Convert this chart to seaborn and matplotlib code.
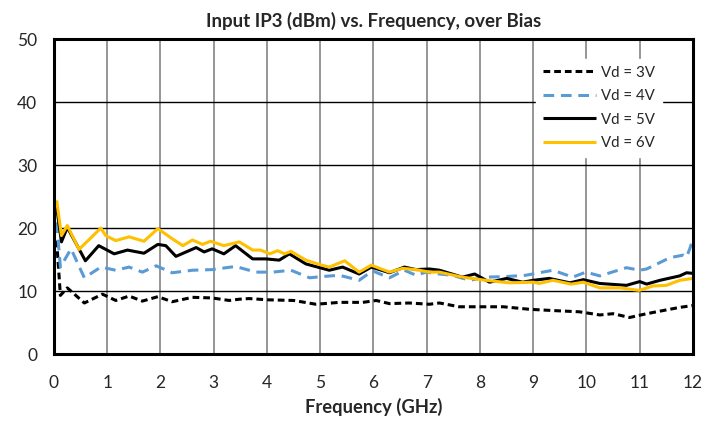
import matplotlib
matplotlib.use("Agg")
import matplotlib.pyplot as plt
import seaborn as sns
import pandas as pd

# ---- data ----
f_3v = [0.05, 0.12, 0.25, 0.57, 0.91, 1.16, 1.41, 1.66, 1.95, 2.22, 2.60, 2.97, 3.29, 3.48,
        3.66, 4.03, 4.50, 4.92, 5.36, 5.80, 6.05, 6.30, 6.67, 7.05, 7.24, 7.61, 8.44, 8.93,
        9.37, 9.87, 10.25, 10.50, 10.81, 11.13, 11.50, 11.75, 12.0]
v_3v = [18.0, 9.3, 10.5, 8.1, 9.5, 8.5, 9.2, 8.4, 9.1, 8.3, 9.0, 8.9, 8.5, 8.7,
        8.8, 8.6, 8.5, 7.9, 8.2, 8.2, 8.5, 8.0, 8.1, 7.9, 8.1, 7.5, 7.5, 7.1,
        6.9, 6.7, 6.2, 6.4, 5.8, 6.4, 7.0, 7.4, 7.7]

f_4v = [0.05, 0.12, 0.32, 0.57, 0.88, 1.16, 1.41, 1.66, 1.92, 2.22, 2.60, 2.97, 3.41, 3.79,
        4.11, 4.45, 4.80, 5.04, 5.36, 5.73, 5.98, 6.30, 6.58, 6.80, 6.99, 7.24, 7.48, 7.81,
        8.11, 8.50, 8.86, 9.37, 9.74, 9.99, 10.25, 10.75, 11.00, 11.13, 11.57, 11.82, 11.88,
        11.94, 12.0]
v_4v = [20.9, 13.8, 16.7, 12.1, 13.8, 13.3, 13.8, 13.0, 14.0, 12.9, 13.3, 13.4, 13.9, 13.0,
        13.0, 13.3, 12.1, 12.3, 12.5, 11.7, 13.2, 12.1, 13.3, 12.5, 13.0, 12.7, 12.5, 11.7,
        12.2, 12.3, 12.5, 13.3, 12.2, 13.0, 12.4, 13.7, 13.3, 13.5, 15.3, 15.7, 15.4,
        16.7, 18.3]

f_5v = [0.05, 0.14, 0.25, 0.59, 0.84, 1.13, 1.38, 1.69, 1.95, 2.10, 2.29, 2.67, 2.82, 2.97,
        3.19, 3.41, 3.73, 3.98, 4.23, 4.42, 4.73, 5.17, 5.42, 5.73, 5.96, 6.30, 6.58, 6.80,
        7.05, 7.24, 7.67, 7.90, 8.18, 8.50, 8.80, 9.00, 9.30, 9.69, 9.94, 10.25, 10.75,
        11.00, 11.13, 11.38, 11.75, 11.88, 12.0]
v_5v = [23.3, 17.8, 20.1, 14.8, 17.2, 15.9, 16.5, 16.0, 17.4, 17.2, 15.5, 16.9, 16.2, 16.7,
        15.9, 17.2, 15.1, 15.1, 14.9, 15.9, 14.3, 13.3, 13.8, 12.7, 13.8, 12.9, 13.8, 13.4,
        13.5, 13.3, 12.2, 12.7, 11.4, 12.0, 11.4, 11.7, 12.0, 11.3, 11.8, 11.2, 10.9,
        11.5, 11.1, 11.7, 12.4, 12.9, 12.8]

f_6v = [0.05, 0.14, 0.25, 0.47, 0.88, 0.97, 1.16, 1.41, 1.69, 1.95, 2.22, 2.42, 2.60, 2.79,
        2.94, 3.19, 3.48, 3.73, 3.88, 4.05, 4.20, 4.33, 4.45, 4.73, 4.99, 5.17, 5.46, 5.73,
        5.96, 6.30, 6.55, 6.80, 7.05, 7.24, 7.67, 8.11, 8.55, 9.00, 9.11, 9.37, 9.71, 9.94,
        10.25, 10.63, 10.99, 11.25, 11.50, 11.75, 12.0]
v_6v = [24.4, 18.8, 20.4, 16.6, 20.0, 18.8, 18.0, 18.6, 17.9, 19.9, 18.3, 17.2, 18.1, 17.4,
        17.9, 17.2, 17.8, 16.5, 16.5, 15.9, 16.4, 15.9, 16.3, 14.9, 14.2, 13.8, 14.8, 13.0,
        14.1, 13.0, 13.6, 13.4, 13.0, 13.0, 12.2, 11.7, 11.3, 11.4, 11.2, 11.7, 11.1, 11.4,
        10.5, 10.5, 10.1, 10.8, 10.9, 11.7, 12.0]

labels = ["Vd = 3V", "Vd = 4V", "Vd = 5V", "Vd = 6V"]
x_ticks = list(range(0, 13))
y_ticks = [0, 10, 20, 30, 40, 50]
title = "Input IP3 (dBm) vs. Frequency, over Bias"
xlabel = "Frequency (GHz)"

# ---- plot ----
sns.set_theme(style="white")
plt.rcParams["font.family"] = ["Lato", "DejaVu Sans"]

fig = plt.figure(figsize=(7.19, 4.21), dpi=100)
ax = fig.add_axes([0.0751, 0.1591, 0.8887, 0.7482])

styles = [
    dict(color="black", dashes=(2.2, 1.3)),
    dict(color="#5B9BD5", dashes=(3.5, 2.2)),
    dict(color="black", dashes=None),
    dict(color="#FFC000", dashes=None),
]
series = [(f_3v, v_3v), (f_4v, v_4v), (f_5v, v_5v), (f_6v, v_6v)]
for (fx, vy), lab, st in zip(series, labels, styles):
    df = pd.DataFrame({"f": fx, "v": vy})
    sns.lineplot(data=df, x="f", y="v", ax=ax, color=st["color"], lw=2.2,
                 label=lab, estimator=None, sort=False)
    ln = ax.lines[-1]
    if st["dashes"]:
        ln.set_dashes(st["dashes"])
    ln.set_solid_capstyle("butt")
    ln.set_dash_capstyle("butt")

ax.set_xlim(0, 12)
ax.set_ylim(0, 50)
ax.set_xticks(x_ticks)
ax.set_yticks(y_ticks)
ax.set_xticklabels([str(t) for t in x_ticks], fontsize=12.5)
ax.set_yticklabels([str(t) for t in y_ticks], fontsize=12.5)
ax.tick_params(axis="x", length=0, pad=15)
ax.tick_params(axis="y", length=0, pad=12)

for t in x_ticks[1:-1]:
    ax.axvline(t, color="#969696", lw=1.4, zorder=0)
for t in y_ticks[1:-1]:
    ax.axhline(t, color="black", lw=1.0, zorder=0)

for sp in ax.spines.values():
    sp.set_color("black")
    sp.set_linewidth(2.2)
    sp.set_visible(True)

ax.set_xlabel(xlabel, fontsize=13.2, fontweight="bold", labelpad=5)
ax.set_ylabel("")
ax.set_title(title, fontsize=13.5, fontweight="bold", pad=9)

leg = ax.legend(loc="upper right", bbox_to_anchor=(0.951, 0.937), frameon=True,
                fontsize=10.8, handlelength=3.55, handletextpad=0.3, labelspacing=0.63,
                borderpad=0.45, borderaxespad=0.0, fancybox=False)
leg.get_frame().set_facecolor("white")
leg.get_frame().set_edgecolor("white")
leg.get_frame().set_alpha(1.0)
leg.set_zorder(5)

fig.savefig("out.png", dpi=100)
